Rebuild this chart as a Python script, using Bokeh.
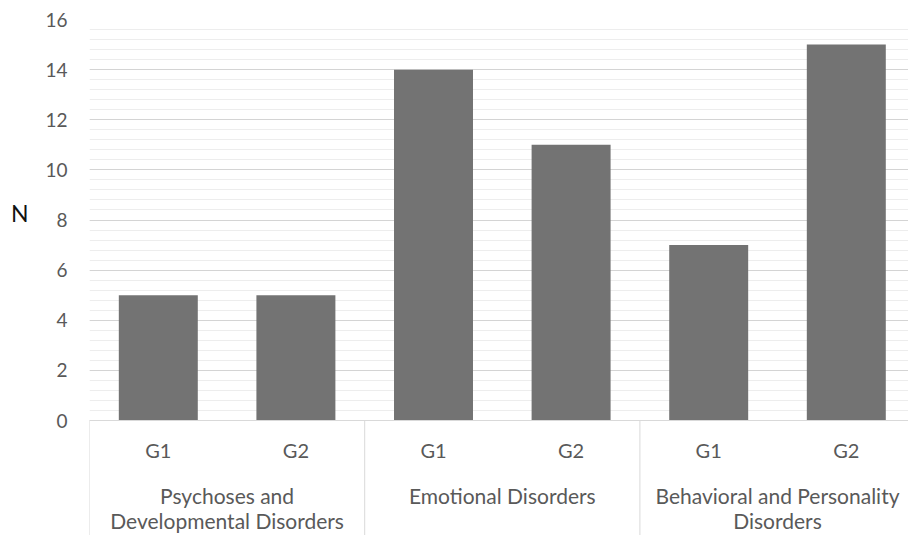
from bokeh.plotting import figure
from bokeh.models import Range1d, FixedTicker, LinearAxis, Span, ColumnDataSource
from bokeh.core.properties import value
from bokeh.embed import file_html
from bokeh.resources import INLINE

groups = ["Psychoses and\nDevelopmental Disorders", "Emotional Disorders", "Behavioral and Personality\nDisorders"]
subgroups = ["G1", "G2"]
values = [5, 5, 14, 11, 7, 15]
y_ticks = [0, 2, 4, 6, 8, 10, 12, 14, 16]

FONT = "Lato"
GRAY_TXT = "#595959"
LINE = "#d9d9d9"

n_sub = len(subgroups)
xs = [i + 0.5 for i in range(len(values))]
labels = [subgroups[i % n_sub] for i in range(len(values))]

# layout (page pixels)
W, H = 908, 535
FRAME_LEFT, FRAME_TOP, AXIS_Y, FRAME_BOTTOM = 89, 19, 420, 535
px_per_unit = (AXIS_Y - FRAME_TOP) / float(y_ticks[-1])
slot_px = 137.6
def y_at(page_y):
    return (AXIS_Y - page_y) / px_per_unit

p = figure(width=W, height=H, output_backend="svg", toolbar_location=None,
           x_range=Range1d(0, (W - FRAME_LEFT) / slot_px),
           y_range=Range1d(y_at(FRAME_BOTTOM), y_ticks[-1]),
           min_border_left=FRAME_LEFT, min_border_right=0,
           min_border_top=FRAME_TOP, min_border_bottom=0)
p.outline_line_color = None
p.xaxis.visible = False
p.xgrid.grid_line_color = None

# y axis + grid
step = (y_ticks[1] - y_ticks[0]) / 5.0
minor = [round(y_ticks[0] + k * step, 6) for k in range(int((y_ticks[-1] - y_ticks[0]) / step) + 1)]
ya = p.yaxis[0]
ya.ticker = FixedTicker(ticks=y_ticks, minor_ticks=minor)
ya.axis_line_color = None
ya.major_tick_line_color = None
ya.minor_tick_line_color = None
ya.major_tick_out = 0
ya.minor_tick_out = 0
ya.major_label_text_font = FONT
ya.major_label_text_font_size = "19px"
ya.major_label_text_color = GRAY_TXT
ya.major_label_standoff = 22
p.ygrid.grid_line_color = "#d4d4d4"
p.ygrid.minor_grid_line_color = "#ededed"

# "N" label via an extra axis on the left
n_pos = y_at(212)
na = LinearAxis(ticker=FixedTicker(ticks=[n_pos]), major_label_overrides={n_pos: "N"})
na.axis_line_color = None
na.major_tick_line_color = None
na.minor_tick_line_color = None
na.major_tick_out = 0
na.minor_tick_out = 0
na.major_label_text_font = FONT
na.major_label_text_font_size = "23px"
na.major_label_text_color = "#111111"
na.major_label_standoff = 14
p.add_layout(na, "left")

# bars
src = ColumnDataSource(dict(x=xs, top=values))
p.vbar(x="x", top="top", width=0.574, bottom=0, source=src, fill_color="#737373", line_color=None)

# x axis line and group dividers
p.add_layout(Span(location=0, dimension="width", line_color=LINE, line_width=1))
div_x = [gi * n_sub for gi in range(len(groups))]
p.segment(x0=div_x, y0=[0] * len(div_x), x1=div_x, y1=[y_at(FRAME_BOTTOM)] * len(div_x),
          line_color=LINE, line_width=1)

# sub-category labels
p.text(x=xs, y=[y_at(449.5)] * len(xs), text=labels, text_align="center", text_baseline="middle",
       text_font=value(FONT), text_font_size="20px", text_color=GRAY_TXT)

# group labels
gx, gy, gt = [], [], []
for gi, g in enumerate(groups):
    for li, line in enumerate(g.split("\n")):
        gx.append(gi * n_sub + n_sub / 2)
        gy.append(y_at(495 + 25 * li))
        gt.append(line)
p.text(x=gx, y=gy, text=gt, text_align="center", text_baseline="middle",
       text_font=value(FONT), text_font_size="21px", text_color=GRAY_TXT)

open("out.html", "w").write(file_html(p, INLINE))
